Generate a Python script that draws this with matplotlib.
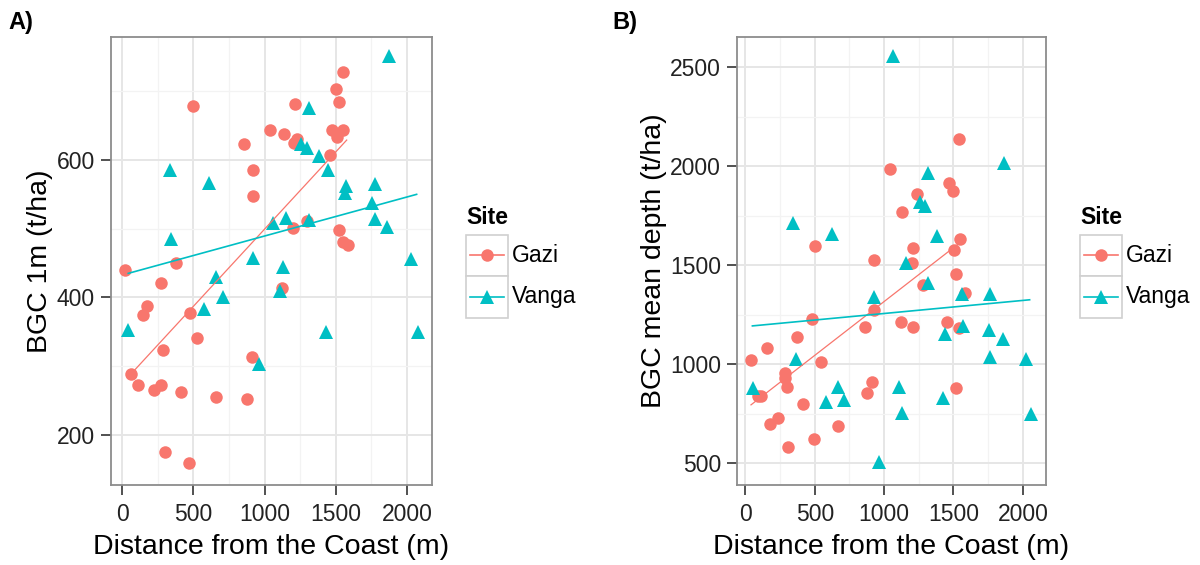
import numpy as np
import matplotlib
matplotlib.use("Agg")
from matplotlib import pyplot as plt
from matplotlib.lines import Line2D
from matplotlib.patches import Rectangle

plt.rcParams['font.family'] = ['Liberation Sans', 'DejaVu Sans']

# couleurs ggplot par defaut
RED = "#F8766D"
TEAL = "#00BFC4"

# ---- Panel A : BGC 1m ----
gaziA_x = [499, 1552, 1498, 1522, 1213, 1037, 1135, 1226, 1206, 1475, 1552, 1510, 1458,
           857, 920, 920, 1196, 1295, 1524, 1552, 1587, 377, 19, 270, 171, 143, 475,
           522, 284, 909, 1119, 59, 112, 223, 272, 410, 658, 874, 300, 471]
gaziA_y = [678, 728, 703, 685, 682, 644, 638, 630, 625, 644, 644, 634, 607,
           623, 586, 548, 501, 511, 498, 481, 477, 450, 440, 421, 388, 374, 377,
           341, 323, 314, 413, 288, 273, 265, 272, 262, 255, 252, 175, 159]
vangaA_x = [1871, 1311, 1255, 1296, 1383, 1442, 335, 612, 1571, 1564, 1772, 1756, 1772,
            1861, 1061, 1150, 1313, 342, 920, 1126, 2029, 656, 1107, 710, 574, 42,
            1428, 2074, 962]
vangaA_y = [751, 676, 623, 618, 606, 585, 585, 567, 562, 552, 565, 537, 514,
            503, 508, 515, 513, 485, 458, 444, 456, 430, 410, 401, 383, 353,
            350, 350, 303]
# droites de regression
gaziA_fit_x = [59, 1576]
gaziA_fit_y = [288, 629]
vangaA_fit_x = [42, 2067]
vangaA_fit_y = [435, 550]

# ---- Panel B : BGC mean depth ----
gaziB_x = [1543, 1043, 1464, 1493, 1235, 1131, 501, 1211, 1548, 1505, 927, 1203, 1519,
           1283, 1584, 927, 477, 373, 156, 38, 542, 862, 1120, 1211, 1452, 1541,
           284, 284, 301, 91, 115, 412, 915, 874, 1519, 176, 235, 669, 496, 308]
gaziB_y = [2140, 1986, 1916, 1877, 1860, 1769, 1599, 1587, 1634, 1578, 1528, 1511, 1456,
           1401, 1360, 1275, 1230, 1137, 1084, 1022, 1011, 1186, 1213, 1186, 1216, 1183,
           958, 930, 887, 842, 842, 798, 913, 857, 879, 699, 728, 689, 623, 581]
vangaB_x = [1066, 1861, 1315, 344, 621, 1259, 1296, 1384, 1156, 1315, 1560, 1765, 927,
            1572, 1440, 1753, 1857, 1765, 2025, 363, 55, 669, 580, 712, 1110, 1127,
            1423, 2061, 965]
vangaB_y = [2559, 2017, 1969, 1713, 1659, 1820, 1802, 1646, 1511, 1413, 1356, 1356, 1342,
            1194, 1154, 1174, 1129, 1036, 1027, 1027, 882, 887, 811, 820, 887, 756,
            829, 749, 508]
gaziB_fit_x = [40, 1560]
gaziB_fit_y = [795, 1622]
vangaB_fit_x = [50, 2049]
vangaB_fit_y = [1194, 1326]

sites = ["Gazi", "Vanga"]


def style_axe(ax, xlim, ylim, xmaj, xmin, ymaj, ymin):
    ax.set_xlim(xlim)
    ax.set_ylim(ylim)
    ax.set_xticks(xmaj)
    ax.set_xticks(xmin, minor=True)
    ax.set_yticks(ymaj)
    ax.set_yticks(ymin, minor=True)
    ax.grid(which="major", color="#E6E6E6", linewidth=1.4, zorder=0)
    ax.grid(which="minor", color="#F3F3F3", linewidth=0.9, zorder=0)
    ax.set_axisbelow(True)
    for s in ax.spines.values():
        s.set_color("#8C8C8C")
        s.set_linewidth(1.3)
    ax.tick_params(which="major", direction="out", length=7, width=1.2,
                   color="#333333", labelsize=16.5, labelcolor="#222222")
    ax.tick_params(axis="x", which="major", pad=6)
    ax.tick_params(axis="y", which="major", pad=4.5)
    ax.tick_params(which="minor", length=0)


def draw(ax, gx, gy, vx, vy, gfx, gfy, vfx, vfy):
    ax.plot(gx, gy, "o", color=RED, markersize=9, markeredgewidth=0, zorder=3)
    ax.plot(vx, vy, "^", color=TEAL, markersize=10.5, markeredgewidth=0, zorder=3)
    ax.plot(gfx, gfy, color=RED, linewidth=0.9, zorder=4)
    ax.plot(vfx, vfy, color=TEAL, linewidth=1.2, zorder=4)


fig = plt.figure(figsize=(12, 5.65), dpi=100)
W, H = 1200, 565

axA = fig.add_axes([111 / W, 1 - 485 / H, (432 - 111) / W, (485 - 37) / H])
draw(axA, gaziA_x, gaziA_y, vangaA_x, vangaA_y, gaziA_fit_x, gaziA_fit_y, vangaA_fit_x, vangaA_fit_y)
style_axe(axA, (-79, 2175), (127, 779), [0, 500, 1000, 1500, 2000], [250, 750, 1250, 1750],
          [200, 400, 600], [300, 500, 700])
axA.set_xlabel("Distance from the Coast (m)", fontsize=20.5)
axA.set_ylabel("BGC 1m (t/ha)", fontsize=20.5)
axA.xaxis.set_label_coords(0.5, -0.11)
axA.yaxis.set_label_coords(-0.18, 0.5)

axB = fig.add_axes([737 / W, 1 - 485 / H, (1046 - 737) / W, (485 - 37) / H])
draw(axB, gaziB_x, gaziB_y, vangaB_x, vangaB_y, gaziB_fit_x, gaziB_fit_y, vangaB_fit_x, vangaB_fit_y)
style_axe(axB, (-61, 2167), (390, 2654), [0, 500, 1000, 1500, 2000], [250, 750, 1250, 1750],
          [500, 1000, 1500, 2000, 2500], [750, 1250, 1750, 2250])
axB.set_xlabel("Distance from the Coast (m)", fontsize=20.5)
axB.set_ylabel("BGC mean depth (t/ha)", fontsize=20.5)
axB.xaxis.set_label_coords(0.5, -0.11)
axB.yaxis.set_label_coords(-0.225, 0.5)

# legendes facon ggplot, dessinees a la main en pixels
over = fig.add_axes([0, 0, 1, 1], zorder=10)
over.set_xlim(0, W)
over.set_ylim(H, 0)
over.axis("off")
for x0 in [466, 1080]:
    over.text(x0, 218, "Site", fontsize=16.5, fontweight="bold", va="center", ha="left")
    for i, (nom, col, mk, ms) in enumerate([(sites[0], RED, "o", 9), (sites[1], TEAL, "^", 10.5)]):
        y0 = 234.5 + i * 41.5
        over.add_patch(Rectangle((x0, y0), 41.5, 41.5, facecolor="white",
                                 edgecolor="#D0D0D0", linewidth=1.2))
        over.add_line(Line2D([x0 + 4, x0 + 37.5], [y0 + 20.75, y0 + 20.75], color=col, linewidth=1.2))
        over.plot([x0 + 20.75], [y0 + 20.75], mk, color=col, markersize=ms, markeredgewidth=0)
        over.text(x0 + 46, y0 + 21, nom, fontsize=16.5, va="center", ha="left")

fig.text(8 / W, 1 - 22 / H, "A)", fontsize=17, fontweight="bold", va="center", ha="left")
fig.text(612 / W, 1 - 22 / H, "B)", fontsize=17, fontweight="bold", va="center", ha="left")

fig.savefig("out.png", dpi=100)
